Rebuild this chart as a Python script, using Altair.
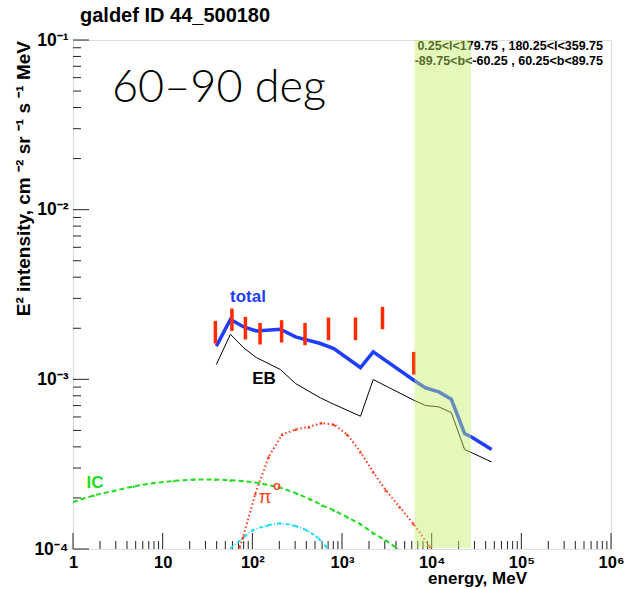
import altair as alt
import pandas as pd

# ---- spectra (E in MeV, E^2 intensity in cm^-2 sr^-1 s^-1 MeV) ----
model_E = [39.7, 57.0, 80.2, 111, 206, 303, 575, 810, 1607, 2230, 6330, 8550,
           12020, 16560, 23300, 28400, 46600]
total_I = [1.568e-3, 2.252e-3, 2.037e-3, 1.929e-3, 1.974e-3, 1.778e-3, 1.626e-3,
           1.519e-3, 1.174e-3, 1.451e-3, 9.88e-4, 8.90e-4, 8.43e-4, 7.63e-4,
           4.79e-4, 4.54e-4, 3.86e-4]
eb_I = [1.223e-3, 1.844e-3, 1.531e-3, 1.344e-3, 1.142e-3, 9.45e-4, 7.77e-4,
        7.13e-4, 6.06e-4, 9.97e-4, 7.53e-4, 7.01e-4, 6.88e-4, 6.37e-4,
        3.86e-4, 3.68e-4, 3.26e-4]

data_E = [38.7, 59.2, 83.7, 122, 212, 387, 707, 1414, 2828, 6325]
data_hi = [2.209e-3, 2.615e-3, 2.333e-3, 2.150e-3, 2.231e-3, 2.150e-3, 2.314e-3,
           2.314e-3, 2.673e-3, 1.451e-3]
data_lo = [1.626e-3, 1.929e-3, 1.717e-3, 1.604e-3, 1.648e-3, 1.589e-3, 1.700e-3,
           1.700e-3, 1.974e-3, 1.067e-3]

ic_E = [1, 1.70, 2.84, 4.75, 7.94, 13.3, 22.2, 38.7, 57, 76.9, 118, 206, 316,
        445, 601, 810, 1143, 1607, 2230, 3060, 4130]
ic_I = [1.893e-4, 2.07e-4, 2.20e-4, 2.34e-4, 2.45e-4, 2.52e-4, 2.57e-4, 2.57e-4,
        2.54e-4, 2.52e-4, 2.45e-4, 2.30e-4, 2.12e-4, 1.96e-4, 1.81e-4, 1.69e-4,
        1.54e-4, 1.40e-4, 1.24e-4, 1.125e-4, 1.005e-4]

pi0_E = [72.3, 78.9, 108, 152, 215, 303, 426, 586, 810, 1143, 1607, 2228, 3080,
         4380, 6240, 9550]
pi0_I = [1.028e-4, 1.177e-4, 2.12e-4, 3.49e-4, 4.73e-4, 5.06e-4, 5.24e-4,
         5.53e-4, 5.41e-4, 4.73e-4, 3.73e-4, 2.84e-4, 2.22e-4, 1.77e-4,
         1.41e-4, 1.03e-4]

brem_E = [57, 76.9, 99.5, 146, 206, 290, 409, 528, 671]
brem_I = [1.005e-4, 1.152e-4, 1.289e-4, 1.38e-4, 1.42e-4, 1.38e-4, 1.289e-4,
          1.177e-4, 1.03e-4]

band_E = [6440, 27500]

# axis ticks (log decades)
x_major = [1, 10, 100, 1e3, 1e4, 1e5, 1e6]
x_minor = [m * 10 ** k for k in range(6) for m in range(2, 10)]
y_major = [1e-4, 1e-3, 1e-2, 1e-1]
y_minor = [m * 10.0 ** k for k in (-4, -3, -2) for m in range(2, 10)]

W, H = 538, 509
FONT = "Liberation Sans"

xs = alt.Scale(type="log", domain=[1, 1e6], nice=False)
ys = alt.Scale(type="log", domain=[1e-4, 1e-1], nice=False)

x_axis = alt.Axis(
    values=x_major, ticks=False, domain=False, grid=False, title=None,
    labelFont=FONT, labelFontWeight="bold", labelFontSize=16.5, labelColor="black",
    labelPadding=5, labelFlush=False,
    labelExpr="datum.value < 50 ? format(datum.value, 'd') : '10' + "
              "['', '', '²', '³', '⁴', '⁵', '⁶'][round(log(datum.value) / LN10)]",
)
y_axis = alt.Axis(
    values=y_major, ticks=False, domain=False, grid=False, title=None,
    labelFont=FONT, labelFontWeight="bold", labelFontSize=17.5, labelColor="black",
    labelPadding=5, labelFlush=False,
    labelExpr="'10' + ['⁻⁴', '⁻³', '⁻²', '⁻¹'][round(log(datum.value) / LN10) + 4]",
)


def X(field):
    return alt.X(field, type="quantitative", scale=xs, axis=x_axis)


def Y(field):
    return alt.Y(field, type="quantitative", scale=ys, axis=y_axis)


def series(E, I):
    return pd.DataFrame({"E": E, "I": I})


one = pd.DataFrame({"k": [0]})

# component curves
total = alt.Chart(series(model_E, total_I)).mark_line(
    color="#1f3dff", strokeWidth=3.5, clip=True).encode(x=X("E"), y=Y("I"))
eb = alt.Chart(series(model_E, eb_I)).mark_line(
    color="black", strokeWidth=1, clip=True).encode(x=X("E"), y=Y("I"))

ic_df = series(ic_E, ic_I)
ic = alt.Chart(ic_df).mark_line(
    color="#22dd22", strokeWidth=2, strokeDash=[5, 3], clip=True
).encode(x=X("E"), y=Y("I"))
ic_pts = alt.Chart(ic_df).mark_point(
    shape="triangle-up", filled=True, size=10, color="#22dd22", opacity=1, clip=True
).encode(x=X("E"), y=Y("I"))

pi_df = series(pi0_E, pi0_I)
pi0 = alt.Chart(pi_df).mark_line(
    color="#ff3a1a", strokeWidth=2, strokeDash=[1.5, 2.5], clip=True
).encode(x=X("E"), y=Y("I"))
pi_pts = alt.Chart(pi_df).mark_point(
    shape="triangle-up", filled=True, size=12, color="#ff3a1a", opacity=1, clip=True
).encode(x=X("E"), y=Y("I"))

br_df = series(brem_E, brem_I)
brem = alt.Chart(br_df).mark_line(
    color="#22ddff", strokeWidth=2, strokeDash=[4, 2, 1, 2], clip=True
).encode(x=X("E"), y=Y("I"))
br_pts = alt.Chart(br_df).mark_point(
    shape="triangle-up", filled=True, size=10, color="#22ddff", opacity=1, clip=True
).encode(x=X("E"), y=Y("I"))

# measured points as vertical error bars
bars = alt.Chart(pd.DataFrame({"E": data_E, "lo": data_lo, "hi": data_hi})).mark_rule(
    color="#ff2a00", strokeWidth=3.5
).encode(x=X("E"), y=Y("lo"), y2="hi")

# inward ROOT-style ticks
xmaj = alt.Chart(pd.DataFrame({"E": x_major})).mark_rule(color="#222", strokeWidth=1).encode(
    x=X("E"), y=alt.value(H), y2=alt.value(H - 16))
xmin = alt.Chart(pd.DataFrame({"E": x_minor})).mark_rule(color="#222", strokeWidth=1).encode(
    x=X("E"), y=alt.value(H), y2=alt.value(H - 8))
ymaj = alt.Chart(pd.DataFrame({"I": y_major})).mark_rule(color="#222", strokeWidth=1).encode(
    y=Y("I"), x=alt.value(0), x2=alt.value(16))
ymin = alt.Chart(pd.DataFrame({"I": y_minor})).mark_rule(color="#222", strokeWidth=1).encode(
    y=Y("I"), x=alt.value(0), x2=alt.value(8))


def label(text, x, y, size, color="black", weight="bold", font=FONT, align="center",
          baseline="middle", angle=0):
    kw = dict(text=text, font=font, fontSize=size, fontWeight=weight, color=color,
              align=align, baseline=baseline)
    if angle:
        kw["angle"] = angle
    return alt.Chart(one).mark_text(**kw).encode(x=alt.value(x), y=alt.value(y))


texts = [
    label("galdef ID 44_500180", 7, -24, 20, align="left"),
    label("60–90 deg", 39, 62, 45, weight=300, font="Lato", align="left",
          baseline="alphabetic"),
    label("0.25<l<179.75 , 180.25<l<359.75", 530, 6, 12.5, align="right"),
    label("-89.75<b<-60.25 , 60.25<b<89.75", 530, 20.5, 12.5, align="right"),
    label("total", 175, 257, 17, color="#1f3dff"),
    label("EB", 191, 339, 17),
    label("IC", 22, 443, 17, color="#22dd22"),
    label("π", 192, 457, 19, color="#ff4422", weight="normal"),
    label("o", 204, 446, 13, color="#ff4422"),
    label("energy, MeV", 454, 539, 17, align="right"),
    label("E² intensity, cm ⁻² sr ⁻¹ s ⁻¹ MeV", -49, 1, 19, align="right", angle=270),
]

# energy window highlighted over everything
band = alt.Chart(pd.DataFrame({"lo": [band_E[0]], "hi": [band_E[1]]})).mark_rect(
    color="#c1ef66", opacity=0.44
).encode(x=X("lo"), x2="hi", y=alt.value(0), y2=alt.value(H - 1))

chart = alt.layer(
    xmin, xmaj, ymin, ymaj,
    ic, ic_pts, brem, br_pts, pi0, pi_pts, eb, total, bars,
    *texts,
    band,
).properties(
    width=W, height=H,
    padding={"left": 73, "top": 40, "right": 13, "bottom": 40},
    autosize=alt.AutoSizeParams(type="none"),
).configure_view(
    stroke="black", strokeWidth=1.6
).configure(background="white")

chart.save("out.html", embed_options={"renderer": "svg", "actions": False})
